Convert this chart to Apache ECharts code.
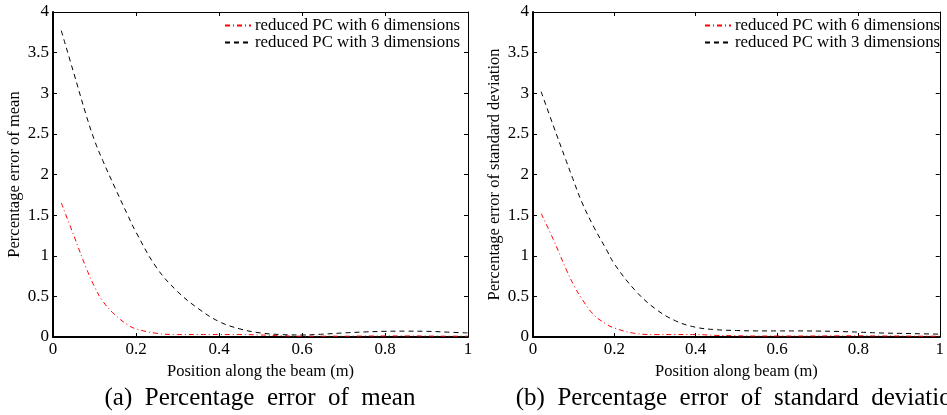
<!DOCTYPE html>
<html>
<head>
<meta charset="utf-8">
<title>Percentage error</title>
<script src="https://cdn.jsdelivr.net/npm/echarts@6/dist/echarts.min.js"></script>
<style>
  html, body { margin: 0; padding: 0; background: #fff; }
  #chart { width: 947px; height: 415px; }
</style>
</head>
<body>
<div id="chart"></div>
<script>
// positions along the beam (m), shared by all curves
const positions = [0.02, 0.05, 0.08, 0.1, 0.12, 0.15, 0.18, 0.2, 0.25, 0.3, 0.35, 0.4,
  0.45, 0.5, 0.55, 0.6, 0.65, 0.7, 0.75, 0.8, 0.85, 0.9, 0.95, 1.0]

// (a) percentage error of mean
const meanErr6 = [1.65, 1.25, 0.85, 0.62, 0.44, 0.27, 0.15, 0.1, 0.045, 0.03, 0.03, 0.03,
  0.03, 0.025, 0.015, 0.01, 0.01, 0.01, 0.012, 0.013, 0.013, 0.012, 0.01, 0.01]
const meanErr3 = [3.77, 3.25, 2.73, 2.42, 2.17, 1.83, 1.5, 1.29, 0.85, 0.56, 0.35, 0.19,
  0.1, 0.05, 0.03, 0.025, 0.035, 0.05, 0.062, 0.07, 0.072, 0.07, 0.06, 0.05]

// (b) percentage error of standard deviation
const stdErr6 = [1.52, 1.2, 0.85, 0.64, 0.47, 0.27, 0.16, 0.11, 0.045, 0.03, 0.03, 0.03,
  0.02, 0.015, 0.012, 0.012, 0.012, 0.013, 0.014, 0.015, 0.013, 0.012, 0.01, 0.01]
const stdErr3 = [3.02, 2.6, 2.19, 1.92, 1.66, 1.35, 1.08, 0.9, 0.58, 0.35, 0.2, 0.12,
  0.09, 0.08, 0.075, 0.075, 0.075, 0.073, 0.068, 0.06, 0.05, 0.045, 0.04, 0.035]

const seriesNames = ['reduced PC with 6 dimensions', 'reduced PC with 3 dimensions']
const xNames = ['Position along the beam (m)', 'Position along beam (m)']
const yNames = ['Percentage error of mean', 'Percentage error of standard deviation']
const captions = ['(a)  Percentage  error  of  mean', '(b)  Percentage  error  of  standard  deviation']

const serif = '"Liberation Serif", "DejaVu Serif", serif'
const gridLefts = [53, 533]

const zip = (ys) => positions.map((x, i) => [x, ys[i]])

const chart = echarts.init(document.getElementById('chart'), null, { renderer: 'canvas' })

const xAxes = []
const yAxes = []
const grids = []
const legends = []
gridLefts.forEach((left, g) => {
  grids.push({ left: left, top: 12, width: 415, height: 325 })
  // main bottom / left axes with labels
  xAxes.push({
    gridIndex: g,
    type: 'value',
    min: 0,
    max: 1,
    interval: 0.2,
    name: xNames[g],
    nameLocation: 'middle',
    nameGap: 24,
    nameTextStyle: { color: '#000', fontFamily: serif, fontSize: 16.5 },
    axisLine: { onZero: false, lineStyle: { color: '#000', width: 2 } },
    axisTick: { inside: true, length: 4, lineStyle: { color: '#000' } },
    axisLabel: { color: '#000', fontFamily: serif, fontSize: 17, margin: 4 },
    splitLine: { show: false }
  })
  yAxes.push({
    gridIndex: g,
    type: 'value',
    min: 0,
    max: 4,
    interval: 0.5,
    name: yNames[g],
    nameLocation: 'middle',
    nameGap: 30,
    nameTextStyle: { color: '#000', fontFamily: serif, fontSize: 16.5 },
    axisLine: { onZero: false, lineStyle: { color: '#000', width: 2 } },
    axisTick: { inside: true, length: 4, lineStyle: { color: '#000' } },
    axisLabel: { color: '#000', fontFamily: serif, fontSize: 17, margin: 4 },
    splitLine: { show: false }
  })
  // mirrored top / right axes, ticks only
  xAxes.push({
    gridIndex: g,
    type: 'value',
    position: 'top',
    min: 0,
    max: 1,
    interval: 0.2,
    axisLine: { onZero: false, lineStyle: { color: '#000', width: 1 } },
    axisTick: { inside: true, length: 4, lineStyle: { color: '#000' } },
    axisLabel: { show: false },
    splitLine: { show: false }
  })
  yAxes.push({
    gridIndex: g,
    type: 'value',
    position: 'right',
    min: 0,
    max: 4,
    interval: 0.5,
    axisLine: { onZero: false, lineStyle: { color: '#000', width: 1 } },
    axisTick: { inside: true, length: 4, lineStyle: { color: '#000' } },
    axisLabel: { show: false },
    splitLine: { show: false }
  })
  legends.push({
    left: left + 171,
    top: 17,
    orient: 'vertical',
    padding: 0,
    itemWidth: 26,
    itemHeight: 10,
    itemGap: 0,
    selectedMode: false,
    itemStyle: { opacity: 0 },
    textStyle: { color: '#000', fontFamily: serif, fontSize: 16.8, lineHeight: 17, padding: [0, 0, 0, -1] },
    data: seriesNames
  })
})

const redLine = { color: '#ff0000', width: 1, type: [5, 3, 1, 3] }
const blackLine = { color: '#000', width: 1, type: [5, 4] }

function makeSeries (name, data, g, lineStyle) {
  return {
    name: name,
    type: 'line',
    xAxisIndex: g * 2,
    yAxisIndex: g * 2,
    data: zip(data),
    smooth: 0.4,
    symbol: 'none',
    color: lineStyle.color,
    lineStyle: lineStyle,
    silent: true
  }
}

const option = {
  animation: false,
  grid: grids,
  xAxis: xAxes,
  yAxis: yAxes,
  legend: legends,
  series: [
    makeSeries(seriesNames[0], meanErr6, 0, redLine),
    makeSeries(seriesNames[1], meanErr3, 0, blackLine),
    makeSeries(seriesNames[0], stdErr6, 1, redLine),
    makeSeries(seriesNames[1], stdErr3, 1, blackLine)
  ],
  graphic: captions.map((text, g) => ({
    type: 'text',
    x: gridLefts[g] + 207,
    y: 398,
    style: {
      text: text,
      fill: '#000',
      font: '25px ' + serif,
      textAlign: 'center',
      textVerticalAlign: 'middle'
    }
  }))
}

chart.setOption(option)
</script>
</body>
</html>
